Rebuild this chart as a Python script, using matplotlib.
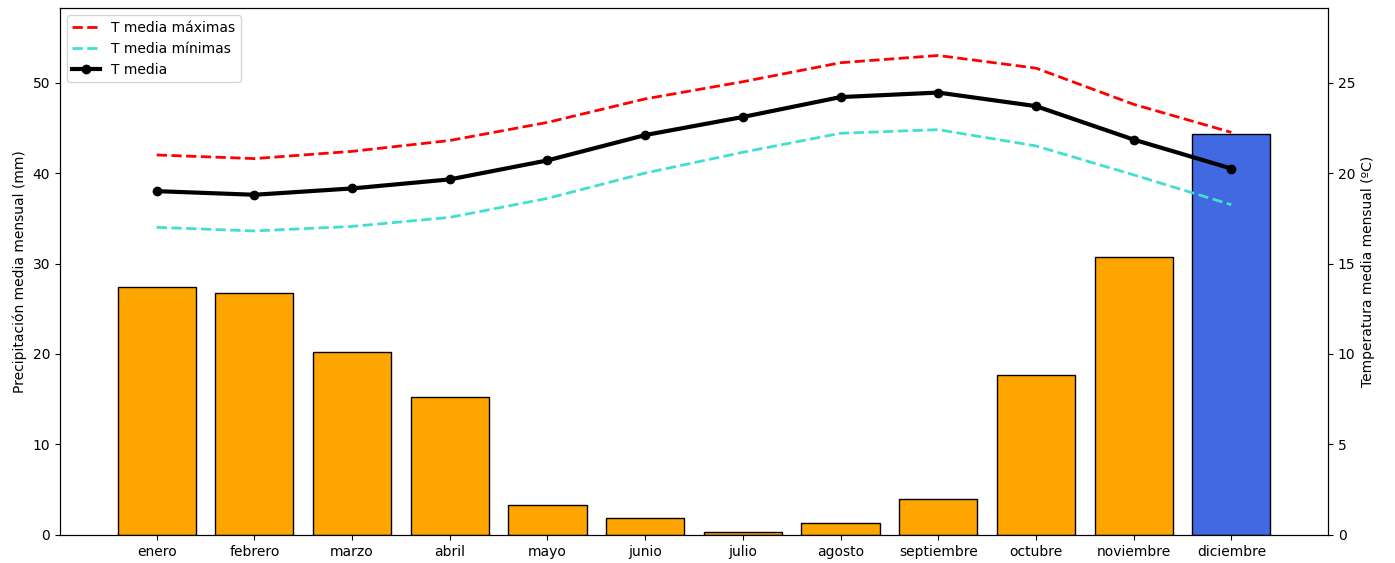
import matplotlib
matplotlib.use("Agg")
import matplotlib.pyplot as plt

meses = ["enero","febrero","marzo","abril","mayo","junio","julio","agosto","septiembre","octubre","noviembre","diciembre"]
precip = [27.4,26.7,20.2,15.2,3.3,1.9,0.35,1.3,4.0,17.7,30.7,44.3]
t_media = [19.0,18.8,19.15,19.65,20.7,22.1,23.1,24.2,24.45,23.7,21.85,20.25]
t_max = [21.0,20.8,21.2,21.8,22.8,24.1,25.05,26.1,26.5,25.8,23.8,22.25]
t_min = [17.0,16.8,17.05,17.55,18.6,20.0,21.15,22.2,22.4,21.5,19.9,18.25]
colors = ["orange"]*11 + ["royalblue"]

fig, ax = plt.subplots(figsize=(13.95,5.63), dpi=100)
fig.subplots_adjust(left=0.043, right=0.952, top=0.985, bottom=0.05)
x = range(len(meses))
ax.bar(x, precip, width=0.8, color=colors, edgecolor="black")
ax.set_xticks(list(x))
ax.set_xticklabels(meses)
ax.set_ylim(0, 58.2)
ax.set_ylabel("Precipitación media mensual (mm)")
ax2 = ax.twinx()
ax2.plot(x, t_max, "--", color="red", lw=2, label="T media máximas")
ax2.plot(x, t_min, "--", color="turquoise", lw=2, label="T media mínimas")
ax2.plot(x, t_media, "-o", color="black", lw=3, label="T media")
ax2.set_ylim(0, 29.1)
ax2.set_ylabel("Temperatura media mensual (ºC)")
ax2.legend(loc="upper left")
fig.savefig("out.png")
